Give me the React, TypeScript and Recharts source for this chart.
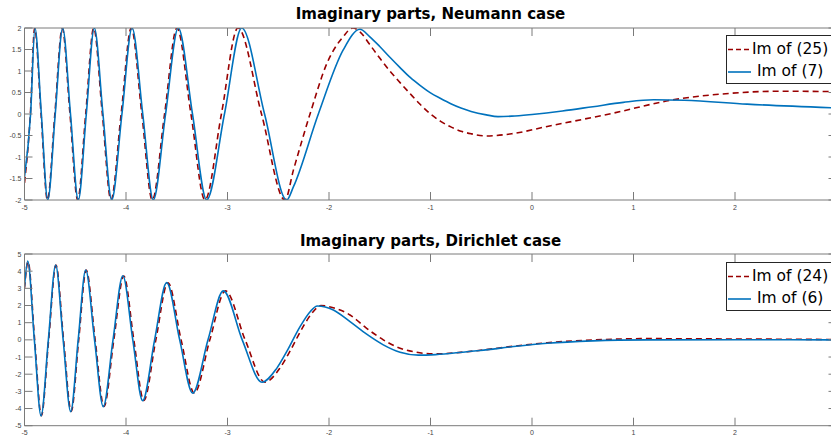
import React from 'react';
import { LineChart, Line, XAxis, YAxis, Legend } from 'recharts';

// axis ticks
const xTicks = [-5, -4, -3, -2, -1, 0, 1, 2, 3];
const xLabelMax = 2; // the "3" label sits past the window edge
const neumannTicks = [-2, -1.5, -1, -0.5, 0, 0.5, 1, 1.5, 2];
const dirichletTicks = [-5, -4, -3, -2, -1, 0, 1, 2, 3, 4, 5];

// Neumann case, [x, Im]
const neumann25: [number, number][] = [
  [-5, -1.6], [-4.942, 0], [-4.9, 2], [-4.837, 0], [-4.774, -2], [-4.701, 0],
  [-4.628, 2], [-4.552, 0], [-4.476, -2], [-4.397, 0], [-4.318, 2], [-4.233, 0],
  [-4.148, -2], [-4.048, 0], [-3.948, 2], [-3.844, 0], [-3.741, -2], [-3.62, 0],
  [-3.498, 2], [-3.36, 0], [-3.222, -2], [-3.06, 0], [-2.897, 2], [-2.665, 0],
  [-2.434, -2], [-2.35, -1.3], [-2.187, 0], [-2.02, 1.18], [-1.86, 1.8], [-1.766, 2],
  [-1.69, 1.9], [-1.6, 1.62], [-1.5, 1.3], [-1.4, 1.0], [-1.3, 0.73], [-1.2, 0.47],
  [-1.1, 0.22], [-1.0, 0.0], [-0.9, -0.17], [-0.8, -0.3], [-0.7, -0.4], [-0.6, -0.46],
  [-0.45, -0.51], [-0.2, -0.46], [0.15, -0.29], [0.8, 0.02], [1.39, 0.33], [1.95, 0.48],
  [2.44, 0.53], [3, 0.52],
];
const neumann7: [number, number][] = [
  [-5, -1.46], [-4.94, 0], [-4.897, 2], [-4.834, 0], [-4.771, -2], [-4.697, 0],
  [-4.624, 2], [-4.547, 0], [-4.47, -2], [-4.391, 0], [-4.312, 2], [-4.227, 0],
  [-4.141, -2], [-4.04, 0], [-3.94, 2], [-3.835, 0], [-3.731, -2], [-3.61, 0],
  [-3.485, 2], [-3.345, 0], [-3.205, -2], [-3.03, 0], [-2.86, 2], [-2.635, 0],
  [-2.417, -2], [-2.35, -1.69], [-2.105, 0], [-1.86, 1.49], [-1.695, 1.97],
  [-1.6, 1.8], [-1.5, 1.57], [-1.4, 1.32], [-1.3, 1.08], [-1.2, 0.85], [-1.1, 0.66],
  [-1.0, 0.49], [-0.9, 0.36], [-0.8, 0.24], [-0.7, 0.14], [-0.6, 0.06], [-0.45, -0.02],
  [-0.335, -0.06], [-0.2, -0.05], [0.0, -0.01], [0.3, 0.07], [0.6, 0.17], [0.9, 0.27],
  [1.2, 0.33], [1.5, 0.32], [2.12, 0.23], [3, 0.14],
];

// Dirichlet case, [x, Im]
const dirichlet24: [number, number][] = [
  [-5, 3.0], [-4.965, 4.55], [-4.9, 0], [-4.834, -4.42], [-4.762, 0], [-4.69, 4.35],
  [-4.615, 0], [-4.54, -4.17], [-4.466, 0], [-4.392, 4.06], [-4.304, 0], [-4.217, -3.88],
  [-4.12, 0], [-4.022, 3.72], [-3.923, 0], [-3.825, -3.53], [-3.706, 0], [-3.587, 3.32],
  [-3.457, 0], [-3.327, -3.1], [-3.174, 0], [-3.02, 2.85], [-2.826, 0], [-2.632, -2.46],
  [-2.485, -1.66], [-2.387, -0.69], [-2.255, 0.77], [-2.156, 1.64], [-2.08, 2.0],
  [-1.95, 1.85], [-1.793, 1.45], [-1.629, 0.67], [-1.465, 0.0],
  [-1.3, -0.49], [-1.14, -0.72], [-0.97, -0.82], [-0.64, -0.69], [-0.51, -0.61],
  [-0.18, -0.37], [0.15, -0.17], [0.6, -0.01], [1.13, 0.07], [2, 0.05], [3, 0.02],
];
const dirichlet6: [number, number][] = [
  [-5, 3.1], [-4.968, 4.59], [-4.903, 0], [-4.837, -4.43], [-4.765, 0], [-4.693, 4.36],
  [-4.619, 0], [-4.545, -4.18], [-4.471, 0], [-4.397, 4.07], [-4.31, 0], [-4.224, -3.89],
  [-4.128, 0], [-4.031, 3.73], [-3.933, 0], [-3.836, -3.54], [-3.718, 0], [-3.599, 3.33],
  [-3.471, 0], [-3.343, -3.11], [-3.192, 0], [-3.041, 2.85], [-2.855, 0], [-2.66, -2.47],
  [-2.515, -1.66], [-2.417, -0.69], [-2.285, 0.77], [-2.186, 1.64], [-2.115, 1.97],
  [-1.957, 1.74], [-1.793, 1.06], [-1.629, 0.33], [-1.465, -0.29],
  [-1.3, -0.72], [-1.12, -0.89], [-0.95, -0.86], [-0.64, -0.69], [-0.51, -0.62],
  [-0.18, -0.39], [0.15, -0.2], [0.6, -0.06], [1.13, 0.0], [2, 0.01], [3, 0.0],
];

const toRows = (pts: [number, number][]) => pts.map(([x, y]) => ({ x, y }));

const RED = '#990000';
const BLUE = '#0072BD';
const AXIS_GREY = '#7a7a7a';
const TICK_TEXT = '#444';
const TICK_LEN = 8;

const BottomTick = ({ x, y, payload }: any) => (
  <g>
    <line x1={x} y1={y} x2={x} y2={y - TICK_LEN} stroke={AXIS_GREY} />
    {payload.value <= xLabelMax && (
      <text x={x} y={y + 7} textAnchor="middle" dominantBaseline="central" fontSize={7} fill={TICK_TEXT}
        fontFamily="'Liberation Sans', Arial, sans-serif">{payload.value}</text>
    )}
  </g>
);
const TopTick = ({ x, y }: any) => <line x1={x} y1={y} x2={x} y2={y + TICK_LEN} stroke={AXIS_GREY} />;
const LeftTick = ({ x, y, payload }: any) => (
  <g>
    <line x1={x} y1={y} x2={x + TICK_LEN} y2={y} stroke={AXIS_GREY} />
    <text x={x - 3} y={y} textAnchor="end" dominantBaseline="central" fontSize={7} fill={TICK_TEXT}
      fontFamily="'Liberation Sans', Arial, sans-serif">{payload.value}</text>
  </g>
);
const RightTick = ({ x, y }: any) => <line x1={x} y1={y} x2={x - TICK_LEN} y2={y} stroke={AXIS_GREY} />;

const LegendBox = ({ labels }: { labels: [string, string] }) => (
  <div style={{ position: 'relative', width: 108, height: 47, border: '1px solid #262626', background: '#fff',
    fontFamily: "'DejaVu Sans', sans-serif", fontSize: 15.5, color: '#000' }}>
    <svg width={26} height={47} style={{ position: 'absolute', left: 0, top: 0 }}>
      <line x1={1} y1={13.5} x2={24} y2={13.5} stroke={RED} strokeWidth={1.6} strokeDasharray="5 3" />
      <line x1={1} y1={36} x2={24} y2={36} stroke={BLUE} strokeWidth={1.6} />
    </svg>
    <span style={{ position: 'absolute', left: 25, top: 4, lineHeight: '18px', whiteSpace: 'nowrap' }}>{labels[0]}</span>
    <span style={{ position: 'absolute', left: 30, top: 26, lineHeight: '18px', whiteSpace: 'nowrap' }}>{labels[1]}</span>
  </div>
);

const titleStyle = (top: number): React.CSSProperties => ({
  position: 'absolute', left: 24.5, width: 812, top, textAlign: 'center', lineHeight: '18px',
  fontFamily: "'DejaVu Sans', sans-serif", fontWeight: 'bold', fontSize: 15, color: '#000', zIndex: 2,
});

interface PanelProps {
  dashed: [number, number][];
  solid: [number, number][];
  yTicks: number[];
  yDomain: [number, number];
  labels: [string, string];
  marginTop: number;
  marginBottom: number;
  height: number;
  legendTop: number;
}

const Panel = ({ dashed, solid, yTicks, yDomain, labels, marginTop, marginBottom, height, legendTop }: PanelProps) => (
  <LineChart width={850} height={height} margin={{ top: marginTop, right: 12.5, bottom: marginBottom, left: 23.5 }}>
    <XAxis xAxisId="b" type="number" dataKey="x" domain={[-5, 3]} ticks={xTicks} interval={0} allowDataOverflow
      height={12} tickSize={0} tickMargin={0} tickLine={false} axisLine={{ stroke: AXIS_GREY }} tick={<BottomTick />} />
    <XAxis xAxisId="t" orientation="top" type="number" dataKey="x" domain={[-5, 3]} ticks={xTicks} interval={0}
      allowDataOverflow height={1} tickSize={0} tickMargin={0} tickLine={false} axisLine={{ stroke: AXIS_GREY }}
      tick={<TopTick />} />
    <YAxis yAxisId="l" type="number" domain={yDomain} ticks={yTicks} interval={0} allowDataOverflow width={1}
      tickSize={0} tickMargin={0} tickLine={false} axisLine={{ stroke: AXIS_GREY }} tick={<LeftTick />} />
    <YAxis yAxisId="r" orientation="right" type="number" domain={yDomain} ticks={yTicks} interval={0}
      allowDataOverflow width={1} tickSize={0} tickMargin={0} tickLine={false} axisLine={{ stroke: AXIS_GREY }}
      tick={<RightTick />} />
    <Line xAxisId="b" yAxisId="l" data={toRows(dashed)} dataKey="y" type="monotone" dot={false}
      stroke={RED} strokeWidth={1.6} strokeDasharray="6 4" isAnimationActive={false} name={labels[0]} />
    <Line xAxisId="b" yAxisId="l" data={toRows(solid)} dataKey="y" type="monotone" dot={false}
      stroke={BLUE} strokeWidth={1.6} isAnimationActive={false} name={labels[1]} />
    <Legend layout="vertical" align="center" verticalAlign="middle"
      wrapperStyle={{ left: 726, top: legendTop, right: 'auto', bottom: 'auto', width: 'auto', height: 'auto' }}
      content={() => <LegendBox labels={labels} />} />
  </LineChart>
);

export default function App() {
  return (
    <div style={{ position: 'fixed', left: 0, top: 0, width: 831, height: 438, overflow: 'hidden', background: '#fff' }}>
      <div style={titleStyle(5)}>Imaginary parts, Neumann case</div>
      <div style={titleStyle(232)}>Imaginary parts, Dirichlet case</div>
      <div style={{ position: 'absolute', left: 0, top: 0 }}>
        <Panel dashed={neumann25} solid={neumann7} yTicks={neumannTicks} yDomain={[-2, 2]}
          labels={['Im of (25)', 'Im of (7)']} marginTop={27} marginBottom={13} height={225} legendTop={35} />
      </div>
      <div style={{ position: 'absolute', left: 0, top: 225 }}>
        <Panel dashed={dirichlet24} solid={dirichlet6} yTicks={dirichletTicks} yDomain={[-5, 5]}
          labels={['Im of (24)', 'Im of (6)']} marginTop={28} marginBottom={0.3} height={213} legendTop={37} />
      </div>
    </div>
  );
}
